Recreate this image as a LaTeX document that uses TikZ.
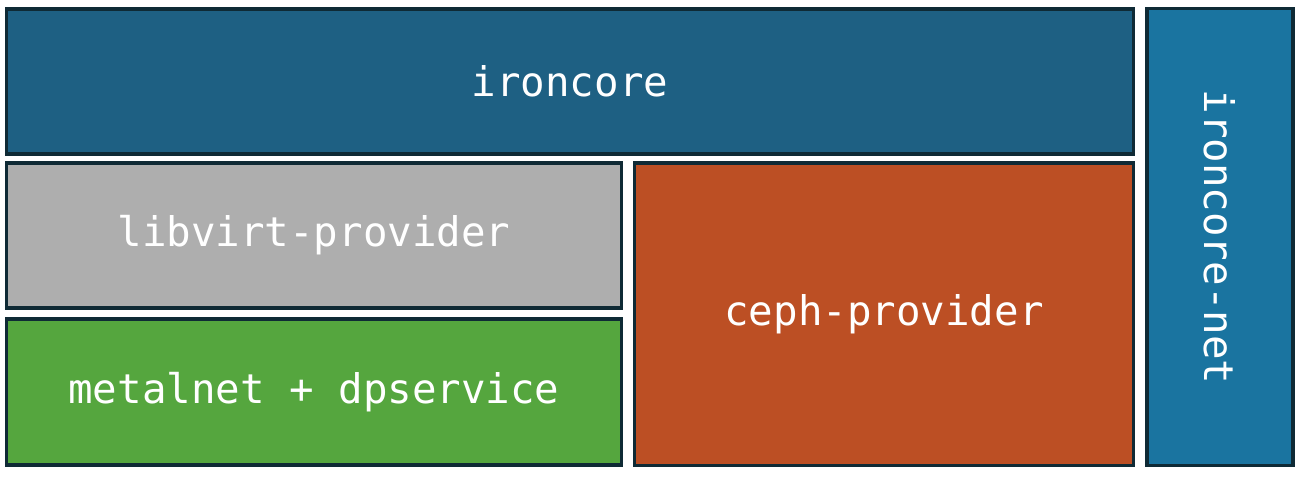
\documentclass[tikz,border=0pt]{standalone}
\usepackage{fontspec}
\setmonofont{DejaVu Sans Mono}
\definecolor{edge}{HTML}{0F2A35}
\definecolor{corecol}{HTML}{1E6083}
\definecolor{netcol}{HTML}{1A74A0}
\definecolor{virtcol}{HTML}{AEAEAE}
\definecolor{metalcol}{HTML}{55A63E}
\definecolor{cephcol}{HTML}{BC4F24}
\tikzset{blk/.style={draw=edge, line width=0.9pt, rectangle, inner sep=0pt, text=white,
  font=\ttfamily\fontsize{11.6}{14}\selectfont}}
\begin{document}
\begin{tikzpicture}[x=0.01cm, y=-0.01cm]
	\useasboundingbox (0,0) rectangle (1302,478);
	\node (core) at (570,81.5) [blk, fill=corecol, minimum width=11.26cm, minimum height=1.45cm] {ironcore};
	\node (virt) at (314,235.5) [blk, fill=virtcol, minimum width=6.14cm, minimum height=1.45cm] {libvirt-provider};
	\node (metal) at (314,392) [blk, fill=metalcol, minimum width=6.14cm, minimum height=1.46cm] {metalnet + dpservice};
	\node (ceph) at (884,314) [blk, fill=cephcol, minimum width=4.98cm, minimum height=3.02cm] {ceph-provider};
	\node (net) at (1220,237) [blk, fill=netcol, minimum width=1.46cm, minimum height=4.56cm] {};
	\node (netlabel) at (net.center) [text=white, rotate=-90, font=\ttfamily\fontsize{11.6}{14}\selectfont] {ironcore-net};
\end{tikzpicture}
\end{document}
